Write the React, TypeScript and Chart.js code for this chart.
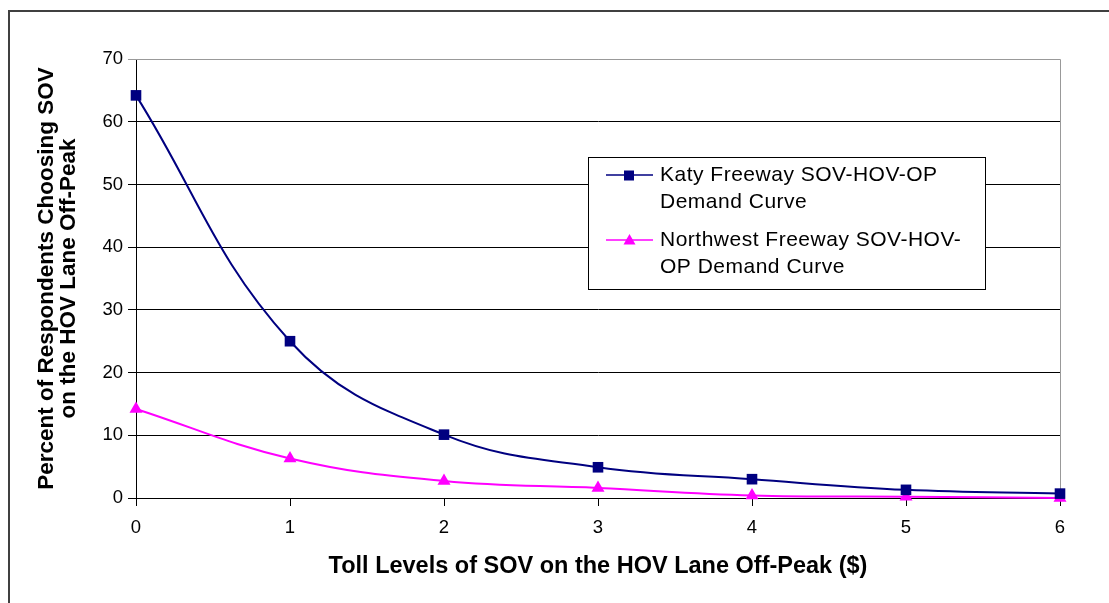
import React, { useEffect, useRef } from "react";
import { Chart, registerables } from "chart.js";

Chart.register(...registerables);

const tollLevels = [0, 1, 2, 3, 4, 5, 6];
const katyValues = [64.2, 25.0, 10.1, 4.9, 3.0, 1.3, 0.7];
const northwestValues = [14.2, 6.3, 2.7, 1.6, 0.4, 0.2, 0.0];
const yTicks = [0, 10, 20, 30, 40, 50, 60, 70];
const katyLegend = ["Katy Freeway SOV-HOV-OP", "Demand Curve"];
const northwestLegend = ["Northwest Freeway SOV-HOV-", "OP Demand Curve"];
const yTitle = ["Percent of Respondents Choosing SOV", "on the HOV Lane Off-Peak"];
const xTitle = "Toll Levels of SOV on the HOV Lane Off-Peak ($)";

const NAVY = "#000080";
const MAGENTA = "#FF00FF";
const FONT = "Arial, 'Liberation Sans', sans-serif";

const framePlugin = {
  id: "frame",
  beforeDatasetsDraw(chart: any) {
    const { ctx, chartArea } = chart;
    ctx.save();
    ctx.strokeStyle = "#999999";
    ctx.lineWidth = 1;
    ctx.beginPath();
    ctx.moveTo(chartArea.left, chartArea.top + 0.5);
    ctx.lineTo(chartArea.right + 0.5, chartArea.top + 0.5);
    ctx.lineTo(chartArea.right + 0.5, chartArea.bottom);
    ctx.stroke();
    ctx.restore();
  },
  afterDraw(chart: any) {
    const { ctx } = chart;
    ctx.save();
    // outer chart border
    ctx.strokeStyle = "#404040";
    ctx.lineWidth = 2;
    ctx.strokeRect(9, 11, 1300, 800);

    // legend box
    const lx = 588.5, ly = 157.5, lw = 397, lh = 132;
    ctx.fillStyle = "#ffffff";
    ctx.fillRect(lx, ly, lw, lh);
    ctx.strokeStyle = "#000000";
    ctx.lineWidth = 1;
    ctx.strokeRect(lx, ly, lw, lh);

    const entries = [
      { lines: katyLegend, color: NAVY, style: "rect", y: 175 },
      { lines: northwestLegend, color: MAGENTA, style: "triangle", y: 240 },
    ];
    ctx.font = `21px ${FONT}`;
    (ctx as any).letterSpacing = "0.5px";
    ctx.textBaseline = "middle";
    ctx.textAlign = "left";
    for (const e of entries) {
      ctx.strokeStyle = e.color;
      ctx.lineWidth = 1.5;
      ctx.beginPath();
      ctx.moveTo(606, e.y);
      ctx.lineTo(653, e.y);
      ctx.stroke();
      ctx.fillStyle = e.color;
      if (e.style === "rect") {
        ctx.fillRect(624, e.y - 4.5, 10, 10);
      } else {
        ctx.beginPath();
        ctx.moveTo(629.5, e.y - 6);
        ctx.lineTo(635.5, e.y + 4.5);
        ctx.lineTo(623.5, e.y + 4.5);
        ctx.closePath();
        ctx.fill();
      }
      ctx.fillStyle = "#000000";
      e.lines.forEach((t, i) => ctx.fillText(t, 660, e.y + i * 27));
    }
    ctx.restore();
  },
};

export default function App() {
  const canvasRef = useRef<HTMLCanvasElement | null>(null);

  useEffect(() => {
    document.body.style.margin = "0";
    const canvas = canvasRef.current;
    if (!canvas) return;
    const chart = new Chart(canvas, {
      type: "line",
      data: {
        datasets: [
          {
            label: katyLegend.join(" "),
            data: tollLevels.map((x, i) => ({ x, y: katyValues[i] })),
            borderColor: NAVY,
            backgroundColor: NAVY,
            borderWidth: 2,
            pointStyle: "rect",
            pointRadius: 7.5,
            pointBorderWidth: 0,
            tension: 0.4,
            clip: false,
          },
          {
            label: northwestLegend.join(""),
            data: tollLevels.map((x, i) => ({ x, y: northwestValues[i] })),
            borderColor: MAGENTA,
            backgroundColor: MAGENTA,
            borderWidth: 2,
            pointStyle: "triangle",
            pointRadius: 7.5,
            pointBorderWidth: 0,
            tension: 0.4,
            clip: false,
          },
        ],
      },
      options: {
        animation: false,
        responsive: false,
        layout: { padding: { top: 59, right: 49, left: 0, bottom: 0 } },
        plugins: { legend: { display: false }, tooltip: { enabled: false } },
        scales: {
          x: {
            type: "linear",
            min: 0,
            max: 6,
            afterFit: (s: any) => {
              s.height = 105;
            },
            afterBuildTicks: (s: any) => {
              s.ticks = tollLevels.map((v) => ({ value: v }));
            },
            ticks: {
              color: "#000",
              font: { family: FONT, size: 18.5 },
              padding: 11,
              maxRotation: 0,
            },
            grid: { drawOnChartArea: false, drawTicks: true, tickLength: 8, color: "#000" },
            border: { color: "#000", width: 1 },
            title: {
              display: true,
              text: xTitle,
              color: "#000",
              font: { family: FONT, size: 23.5, weight: "bold" },
              padding: { top: 0, bottom: 22 },
            },
          },
          y: {
            min: 0,
            max: 70,
            afterFit: (s: any) => {
              s.width = 136;
            },
            afterBuildTicks: (s: any) => {
              s.ticks = yTicks.map((v) => ({ value: v }));
            },
            ticks: {
              color: "#000",
              font: { family: FONT, size: 18.5 },
              padding: 5,
            },
            grid: {
              color: (c: any) => (c.tick && c.tick.value === 70 ? "#999999" : "#000000"),
              tickLength: 8,
              lineWidth: 1,
            },
            border: { color: "#000", width: 1 },
            title: {
              display: true,
              text: yTitle,
              color: "#000",
              font: { family: FONT, size: 22.5, weight: "bold", lineHeight: 0.978 },
              padding: { top: 36, bottom: 0 },
            },
          },
        },
      },
      plugins: [framePlugin],
    });
    return () => chart.destroy();
  }, []);

  return (
    <div style={{ position: "absolute", left: 0, top: 0, width: 1109, height: 603, background: "#fff" }}>
      <canvas ref={canvasRef} width={1109} height={603} style={{ width: 1109, height: 603 }} />
    </div>
  );
}
